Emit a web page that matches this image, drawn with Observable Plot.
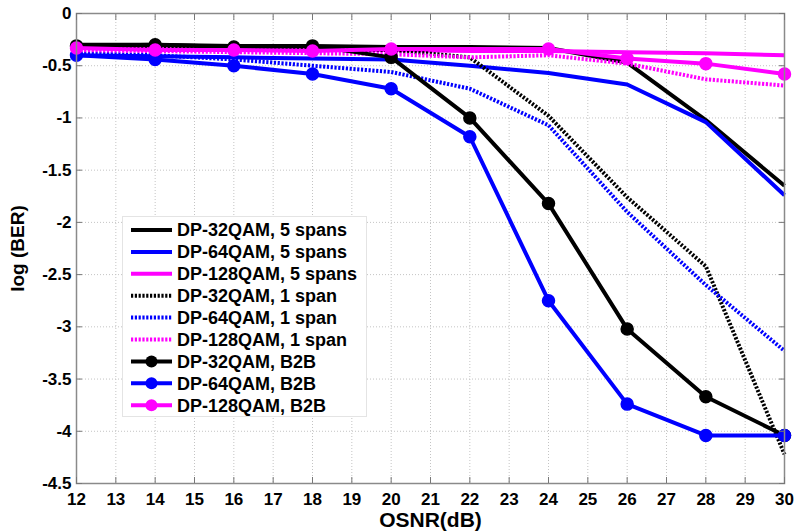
<!DOCTYPE html>
<html><head><meta charset="utf-8">
<script src="https://cdn.jsdelivr.net/npm/d3@7"></script>
<script src="https://cdn.jsdelivr.net/npm/@observablehq/plot@0.6"></script>
<style>
body{margin:0;background:#fff;}
#wrap{position:relative;width:795px;height:532px;font-family:"Liberation Sans",Arial,sans-serif;}
#legend{position:absolute;left:122px;top:216px;width:245px;height:201px;background:#fff;border:1px solid #e4e4e4;box-sizing:border-box;}
</style></head><body><div id="wrap"></div>
<script>
const osnr = [12,14,16,18,20,22,24,26,28,30];
const qam32_5span  = [-0.30,-0.30,-0.31,-0.31,-0.32,-0.32,-0.33,-0.47,-1.02,-1.65];
const qam64_5span  = [-0.40,-0.41,-0.42,-0.43,-0.44,-0.50,-0.57,-0.68,-1.04,-1.74];
const qam128_5span = [-0.33,-0.34,-0.35,-0.35,-0.35,-0.36,-0.36,-0.37,-0.38,-0.40];
const qam32_1span  = [-0.33,-0.33,-0.34,-0.34,-0.35,-0.42,-0.98,-1.76,-2.42,-4.22];
const qam64_1span  = [-0.38,-0.40,-0.44,-0.50,-0.56,-0.72,-1.07,-1.90,-2.60,-3.23];
const qam128_1span = [-0.35,-0.36,-0.37,-0.38,-0.39,-0.42,-0.40,-0.48,-0.63,-0.69];
const qam32_b2b    = [-0.31,-0.30,-0.32,-0.31,-0.42,-1.00,-1.82,-3.02,-3.67,-4.04];
const qam64_b2b    = [-0.40,-0.44,-0.50,-0.58,-0.72,-1.18,-2.75,-3.74,-4.04,-4.04];
const qam128_b2b   = [-0.33,-0.35,-0.35,-0.36,-0.34,null,-0.34,-0.43,-0.48,-0.58];
const xTicks = [12,13,14,15,16,17,18,19,20,21,22,23,24,25,26,27,28,29,30];
const yTicks = [0,-0.5,-1,-1.5,-2,-2.5,-3,-3.5,-4,-4.5];
const seriesNames = ["DP-32QAM, 5 spans","DP-64QAM, 5 spans","DP-128QAM, 5 spans","DP-32QAM, 1 span","DP-64QAM, 1 span","DP-128QAM, 1 span","DP-32QAM, B2B","DP-64QAM, B2B","DP-128QAM, B2B"];
const seriesValues = [qam32_5span,qam64_5span,qam128_5span,qam32_1span,qam64_1span,qam128_1span,qam32_b2b,qam64_b2b,qam128_b2b];
const seriesColors = ["#000000","#0000ff","#ff00ff","#000000","#0000ff","#ff00ff","#000000","#0000ff","#ff00ff"];
const seriesKind = ["solid","solid","solid","dotted","dotted","dotted","marker","marker","marker"];

const DOT = "2.2,1.6";
const series = seriesNames.map((name,k)=>({
  name, color: seriesColors[k], kind: seriesKind[k],
  data: osnr.map((x,i)=>({x, y: seriesValues[k][i]})).filter(d=>d.y!=null)
}));

const marks = [
  Plot.gridX(xTicks,{stroke:"#c4c4c4",strokeOpacity:1,strokeDasharray:"1,2"}),
  Plot.gridY(yTicks,{stroke:"#c4c4c4",strokeOpacity:1,strokeDasharray:"1,2"}),
];
for (const s of series) {
  marks.push(Plot.line(s.data,{x:"x",y:"y",stroke:s.color,strokeWidth:4,
    strokeDasharray: s.kind==="dotted"?DOT:null, strokeLinejoin:"miter", strokeLinecap:"butt"}));
  if (s.kind==="marker") marks.push(Plot.dot(s.data,{x:"x",y:"y",r:6,fill:s.color,stroke:s.color}));
}
marks.push(
  Plot.frame({stroke:"#8a8a8a",strokeWidth:1.5}),
  Plot.axisX(xTicks,{anchor:"bottom",tickSize:0,tickPadding:9,fontSize:17,fontWeight:"bold",label:null,tickFormat:d=>String(d)}),
  Plot.axisX(xTicks,{anchor:"bottom",tickSize:6,dy:-6,text:null,label:null,stroke:"#777"}),
  Plot.axisX(xTicks,{anchor:"top",tickSize:6,dy:6,text:null,label:null,stroke:"#777"}),
  Plot.axisY(yTicks,{anchor:"left",tickSize:0,tickPadding:5,fontSize:17,fontWeight:"bold",label:null,tickFormat:d=>String(d)}),
  Plot.axisY(yTicks,{anchor:"left",tickSize:6,dx:6,text:null,label:null,stroke:"#777"}),
  Plot.axisY(yTicks,{anchor:"right",tickSize:6,dx:-6,text:null,label:null,stroke:"#777"}),
  Plot.text(["OSNR(dB)"],{frameAnchor:"bottom",lineAnchor:"middle",textAnchor:"middle",dy:37,fontSize:21,fontWeight:"bold",fill:"#000"}),
  Plot.text(["log (BER)"],{frameAnchor:"left",lineAnchor:"middle",textAnchor:"middle",dx:-59,rotate:-90,fontSize:19,fontWeight:"bold",fill:"#000"})
);

const chart = Plot.plot({
  width:795,height:532,
  marginLeft:76,marginRight:11,marginTop:13,marginBottom:49,
  x:{domain:[12,30],axis:null},
  y:{domain:[-4.5,0],axis:null},
  style:{fontFamily:"'Liberation Sans', Arial, sans-serif",color:"#000",background:"#fff",overflow:"visible"},
  marks
});
const wrap = document.getElementById("wrap");
wrap.appendChild(chart);

// legend
const ns = "http://www.w3.org/2000/svg";
const leg = document.createElement("div");
leg.id = "legend";
const svg = document.createElementNS(ns,"svg");
svg.setAttribute("width","243");svg.setAttribute("height","199");
series.forEach((s,i)=>{
  const cy = 13 + i*21.9;
  const ln = document.createElementNS(ns,"line");
  ln.setAttribute("x1","8");ln.setAttribute("x2","49");
  ln.setAttribute("y1",cy);ln.setAttribute("y2",cy);
  ln.setAttribute("stroke",s.color);ln.setAttribute("stroke-width","4");
  if (s.kind==="dotted") ln.setAttribute("stroke-dasharray",DOT);
  svg.appendChild(ln);
  if (s.kind==="marker") {
    const c = document.createElementNS(ns,"circle");
    c.setAttribute("cx","28.5");c.setAttribute("cy",cy);c.setAttribute("r","6");
    c.setAttribute("fill",s.color);svg.appendChild(c);
  }
  const t = document.createElementNS(ns,"text");
  t.setAttribute("x","54");t.setAttribute("y",cy);t.setAttribute("dy","0.36em");
  t.setAttribute("font-size","18");t.setAttribute("font-weight","bold");
  t.setAttribute("font-family","'Liberation Sans', Arial, sans-serif");
  t.textContent = s.name;
  svg.appendChild(t);
});
leg.appendChild(svg);
wrap.appendChild(leg);
</script></body></html>
